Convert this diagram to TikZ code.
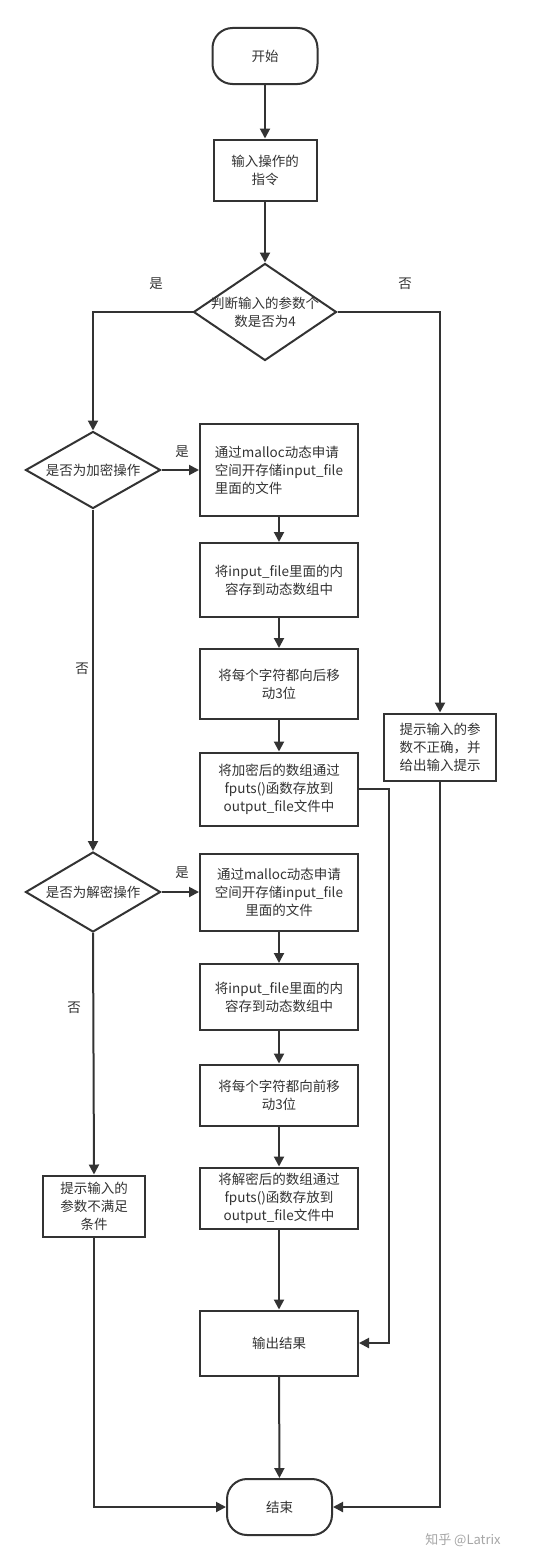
\documentclass[tikz,border=0pt]{standalone}
\usepackage{fontspec}
\setmainfont{Noto Sans CJK SC}
\usetikzlibrary{shapes.geometric,arrows.meta}
\definecolor{ink}{HTML}{333333}
\begin{document}
\begin{tikzpicture}[x=1pt,y=-1pt,
  every node/.style={font=\fontsize{13.5pt}{18pt}\selectfont, text=ink},
  box/.style={draw=ink, line width=2pt, rectangle, minimum width=158pt, inner sep=2pt, align=center},
  term/.style={draw=ink, line width=2pt, rectangle, rounded corners=20pt, minimum width=105pt, minimum height=56pt},
  dia/.style={draw=ink, line width=2pt, diamond, inner sep=0pt},
  lbl/.style={align=center},
  conn/.style={draw=ink, line width=2pt, -{Triangle[length=10pt,width=10pt]}},
  line/.style={draw=ink, line width=2pt}]
\useasboundingbox[fill=white] (0,0) rectangle (555,1563);
% nodes
\node[term] (start) at (265,56) {开始};
\node[box, minimum width=103pt, minimum height=61pt] (inp) at (265,170) {输入操作的\\指令};
\node[dia, minimum width=143pt, minimum height=97pt] (d1) at (265,312) {};
\node[lbl] (d1t) at (265,312) {判断输入的参数个\\数是否为4};
\node[dia, minimum width=135pt, minimum height=77pt] (d2) at (93,470) {};
\node[lbl] (d2t) at (93,470) {是否为加密操作};
\node[box, minimum height=92pt, align=left] (e1) at (279,470) {通过malloc动态申请\\空间开存储input\_file\\里面的文件};
\node[box, minimum height=74pt] (e2) at (279,580) {将input\_file里面的内\\容存到动态数组中};
\node[box, minimum height=70pt] (e3) at (279,684) {将每个字符都向后移\\动3位};
\node[box, minimum height=73pt] (e4) at (279,789) {将加密后的数组通过\\fputs()函数存放到\\output\_file文件中};
\node[box, minimum width=112pt, minimum height=67pt] (err1) at (440,747) {提示输入的参\\数不正确，并\\给出输入提示};
\node[dia, minimum width=135pt, minimum height=80pt] (d3) at (93,892) {};
\node[lbl] (d3t) at (93,892) {是否为解密操作};
\node[box, minimum height=77pt] (f1) at (279,892) {通过malloc动态申请\\空间开存储input\_file\\里面的文件};
\node[box, minimum height=66pt] (f2) at (279,997) {将input\_file里面的内\\容存到动态数组中};
\node[box, minimum height=61pt] (f3) at (279,1095) {将每个字符都向前移\\动3位};
\node[box, minimum height=61pt] (f4) at (279,1198) {将解密后的数组通过\\fputs()函数存放到\\output\_file文件中};
\node[box, minimum width=102pt, minimum height=61pt] (err2) at (94,1206) {提示输入的\\参数不满足\\条件};
\node[box, minimum height=65pt] (out) at (279,1343) {输出结果};
\node[term] (end) at (279.5,1507) {结束};
% labels
\node (l1) at (156,284) {是};
\node (l2) at (405,284) {否};
\node (l3) at (182,452) {是};
\node (l4) at (82,669) {否};
\node (l5) at (182,873) {是};
\node (l6) at (74,1008) {否};
\node[text=gray!70, font=\fontsize{13pt}{16pt}\selectfont] (wm) at (463,1540) {知乎 @Latrix};
% connectors
\draw[conn] (start) -- (inp);
\draw[conn] (inp) -- (d1.north);
\draw[conn] (d1.west) -| (d2.north);
\draw[conn] (d1.east) -| (err1.north);
\draw[conn] (d2.east) -- (e1.west);
\draw[conn] (e1) -- (e2);
\draw[conn] (e2) -- (e3);
\draw[conn] (e3) -- (e4);
\draw[conn] (d2.south) -- (d3.north);
\draw[conn] (d3.east) -- (f1.west);
\draw[conn] (f1) -- (f2);
\draw[conn] (f2) -- (f3);
\draw[conn] (f3) -- (f4);
\draw[conn] (f4) -- (out);
\draw[conn] (d3.south) -- (err2.north);
\coordinate (c1) at (389,789);
\draw[conn] (e4.east) -- (c1) |- (out.east);
\draw[conn] (out) -- (end);
\draw[conn] (err2.south) |- (end.west);
\draw[conn] (err1.south) |- (end.east);
\end{tikzpicture}
\end{document}
